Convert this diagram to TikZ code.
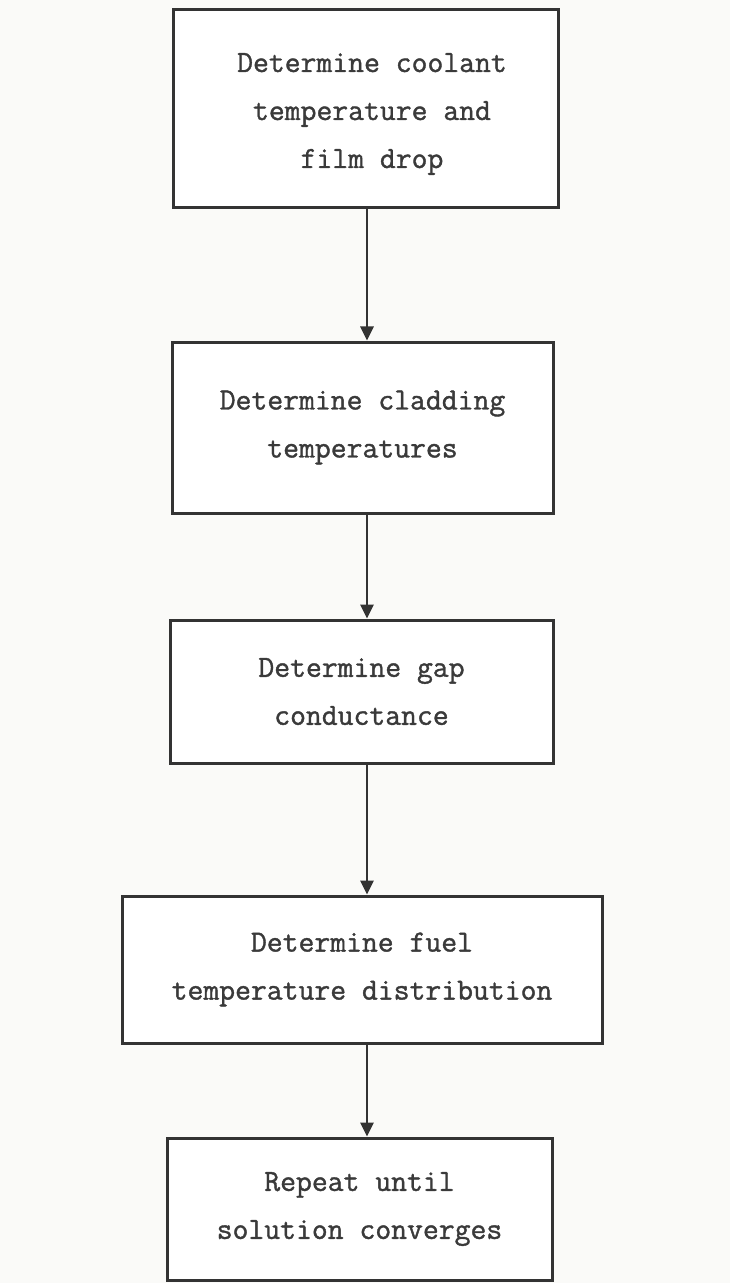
\documentclass[tikz,border=0pt]{standalone}
\usepackage{fontspec}
\setmonofont{Latin Modern Mono}[FakeBold=1.2]
\usetikzlibrary{arrows.meta}
\definecolor{ink}{HTML}{333333}
\definecolor{txt}{HTML}{3A3A3A}
\definecolor{paper}{HTML}{FAFAF8}
\tikzset{
  stepbox/.style={draw=ink, line width=1.5pt, fill=white, inner sep=0pt,
    align=center, text=txt, font=\ttfamily\bfseries\fontsize{15.4}{24}\selectfont},
  steptext/.style={inner sep=0pt, align=center, text=txt,
    font=\ttfamily\bfseries\fontsize{15.4}{24}\selectfont},
  arr/.style={draw=ink, line width=1.4pt, -{Triangle[width=6.5pt,length=7pt]}}
}
\begin{document}
\begin{tikzpicture}[x=0.5pt,y=-0.5pt]
\fill[paper] (0,0) rectangle (730,1283);
\useasboundingbox (0,0) rectangle (730,1283);
\node[stepbox, minimum width=192.5pt, minimum height=99pt] (b1) at (365.5,109) {};
\node[steptext] (t1) at (372,114) {Determine coolant\\temperature and\\film drop};
\node[stepbox, minimum width=190.5pt, minimum height=85.5pt] (b2) at (362.5,427.5)
  {Determine cladding\\temperatures};
\node[stepbox, minimum width=191.5pt, minimum height=71.5pt] (b3) at (361.5,691.5)
  {Determine gap\\conductance};
\node[stepbox, minimum width=240pt, minimum height=73.5pt] (b4) at (362,969.5)
  {Determine fuel\\temperature distribution};
\node[stepbox, minimum width=192.5pt, minimum height=71pt] (b5) at (359.5,1209)
  {Repeat until\\solution converges};
\coordinate (ax) at (367,0);
\draw[arr] (b1.south -| ax) -- (b2.north -| ax);
\draw[arr] (b2.south -| ax) -- (b3.north -| ax);
\draw[arr] (b3.south -| ax) -- (b4.north -| ax);
\draw[arr] (b4.south -| ax) -- (b5.north -| ax);
\end{tikzpicture}
\end{document}
